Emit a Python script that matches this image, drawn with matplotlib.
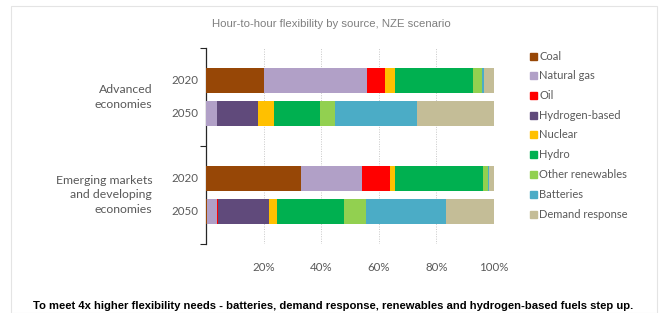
import matplotlib
matplotlib.use("Agg")
import matplotlib.pyplot as plt
from matplotlib.patches import Rectangle
import numpy as np

sources = ["Coal", "Natural gas", "Oil", "Hydrogen-based", "Nuclear", "Hydro",
           "Other renewables", "Batteries", "Demand response"]
colors = ["#974706", "#B1A0C7", "#FF0000", "#604A7B", "#FFC000", "#00B050",
          "#92D050", "#4BACC6", "#C4BD97"]

years = ["2020", "2050", "2020", "2050"]
groups = ["Advanced\neconomies", "Emerging markets\nand developing\neconomies"]

# shares (%) per row: Adv 2020, Adv 2050, EMDE 2020, EMDE 2050
coal      = [20.0, 0.0, 33.0, 0.5]
gas       = [35.8, 3.9, 21.3, 3.3]
oil       = [6.5, 0.0, 9.5, 0.3]
hydrogen  = [0.0, 14.2, 0.0, 17.8]
nuclear   = [3.4, 5.5, 1.9, 2.7]
hydro     = [26.9, 16.1, 30.4, 23.4]
other_ren = [3.2, 5.1, 1.8, 7.4]
batteries = [0.7, 28.4, 0.3, 27.9]
demand    = [3.5, 26.8, 1.8, 16.8]

series = [coal, gas, oil, hydrogen, nuclear, hydro, other_ren, batteries, demand]

W, H = 663, 313
fig = plt.figure(figsize=(W / 100, H / 100), dpi=100)
fig.patch.set_facecolor("white")

# light frame
fig.add_artist(Rectangle((11 / W, 0), (657 - 11) / W, (H - 6) / H,
                         transform=fig.transFigure, fill=False,
                         edgecolor="#e4e4e4", lw=0.8))

ax = fig.add_axes([206 / W, (H - 244) / H, 288 / W, 196 / H])
ypos = np.array([1, 2, 4, 5])
left = np.zeros(4)
for vals, c, name in zip(series, colors, sources):
    v = np.array(vals)
    ax.barh(ypos, v, left=left, height=0.76, color=c, label=name, zorder=3)
    left += v

ax.set_xlim(0, 100)
ax.set_ylim(6, 0)
ax.set_xticks([20, 40, 60, 80, 100])
ax.set_xticklabels(["20%", "40%", "60%", "80%", "100%"], fontfamily="Lato",
                   fontsize=8.3, color="#595959")
ax.tick_params(axis="x", length=0, pad=13)
for x in [20, 40, 60, 80, 100]:
    ax.axvline(x, color="#c8c8c8", lw=0.7, ls=(0, (1, 1.5)), zorder=1)
ax.set_yticks([0, 3, 6])
ax.set_yticklabels([])
ax.tick_params(axis="y", length=4, width=0.8, color="#262626")
for s in ["top", "right", "bottom"]:
    ax.spines[s].set_visible(False)
ax.spines["left"].set_color("#262626")
ax.spines["left"].set_linewidth(0.9)

for y, lab in zip(ypos, years):
    ax.text(-2.8, y, lab, ha="right", va="center", fontfamily="Lato",
            fontsize=8.3, color="#595959")
for yc, g in zip([1.5, 4.5], groups):
    ax.text(-18.7, yc, g, ha="right", va="center", fontfamily="Lato",
            fontsize=8.8, color="#595959", linespacing=1.4)

# legend
for i, (name, c) in enumerate(zip(sources, colors)):
    yy = 56 + i * 19.75
    fig.add_artist(Rectangle((530 / W, 1 - (yy + 3.5) / H), 7 / W, 7 / H,
                             transform=fig.transFigure, color=c))
    fig.text(539 / W, 1 - yy / H, name, ha="left", va="center",
             fontfamily="Lato", fontsize=8, color="#595959")

fig.text(331 / W, 1 - 24 / H, "Hour-to-hour flexibility by source, NZE scenario",
         ha="center", va="center", fontfamily="Liberation Sans", fontsize=8.2,
         color="#7f7f7f")
fig.text(333 / W, 1 - 306 / H,
         "To meet 4x higher flexibility needs - batteries, demand response, renewables and hydrogen-based fuels step up.",
         ha="center", va="center", fontfamily="Liberation Sans", fontsize=8.1,
         fontweight="bold", color="#000000")

fig.savefig("out.png", dpi=100, facecolor="white")
